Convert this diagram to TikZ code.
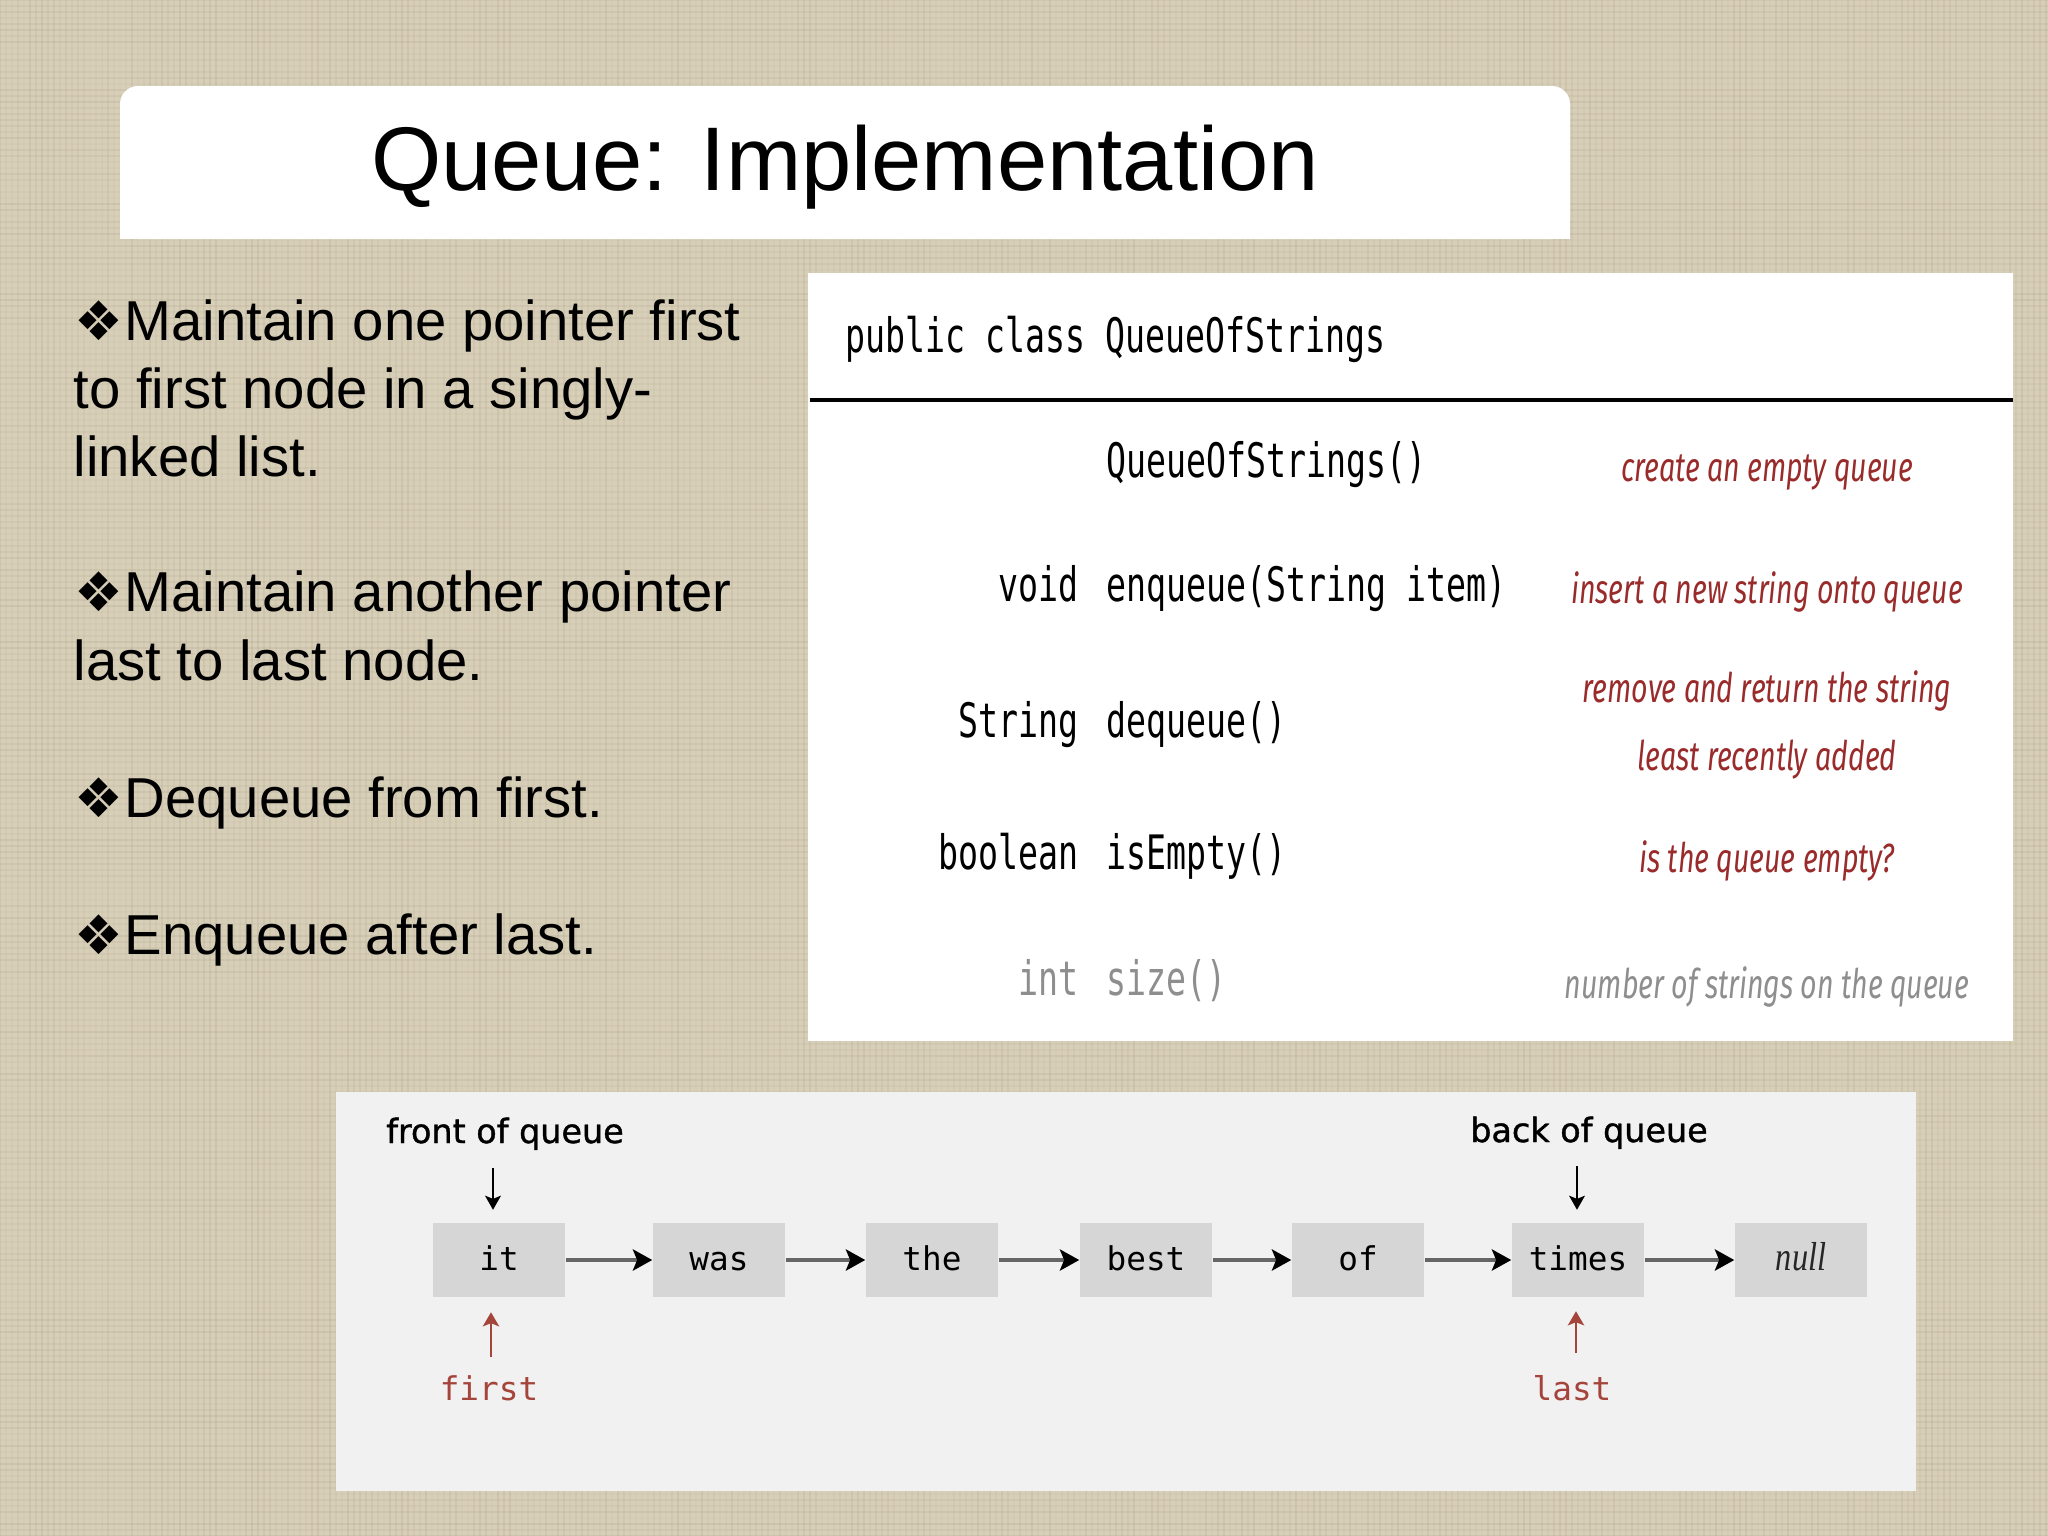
\documentclass[tikz,border=0pt]{standalone}
\usepackage{fontspec}
\setmainfont{Liberation Sans}
\newfontfamily\bulletfont{DejaVu Sans}
\newfontfamily\tmono[FakeStretch=0.7]{DejaVu Sans Mono}
\newfontfamily\dmono{DejaVu Sans Mono}
\newfontfamily\descfont[FakeStretch=0.7]{Fira Sans}
\newfontfamily\nilfont[FakeStretch=0.8]{Liberation Serif}
\newfontfamily\lblfont[FakeBold=1.2]{DejaVu Sans}
\usetikzlibrary{arrows.meta}
\definecolor{bgbeige}{HTML}{D8CFB9}
\definecolor{thread}{HTML}{A89D84}
\definecolor{descred}{HTML}{9A2B2B}
\definecolor{ptrred}{HTML}{A5443B}
\definecolor{rowgray}{HTML}{8E8E8E}
\definecolor{panelgray}{HTML}{F1F1F1}
\definecolor{boxgray}{HTML}{D6D6D6}
\definecolor{linkgray}{HTML}{666666}
\tikzset{
  bulletline/.style={anchor=base west, inner sep=0pt, font=\fontsize{16}{16}\selectfont},
  monotxt/.style={inner sep=0pt, font=\tmono\fontsize{13.5}{13.5}\selectfont},
  desctxt/.style={anchor=base, inner sep=0pt, text=descred, font=\descfont\itshape\fontsize{11.6}{11.6}\selectfont},
  qbox/.style={fill=boxgray, minimum width=1.32cm, minimum height=0.73cm, inner sep=0pt,
    text height=0.76em, text depth=0.15em, font=\dmono\fontsize{9.3}{9.3}\selectfont},
  link/.style={draw=linkgray, line width=0.042cm, -{Stealth[black,length=5.5pt,width=6pt,inset=1.2pt]}},
  downptr/.style={draw=black, line width=0.5pt, -{Stealth[length=4pt,width=4.5pt,inset=0.9pt]}},
  upptr/.style={draw=ptrred, line width=0.8pt, -{Stealth[length=4pt,width=4.6pt,inset=0.9pt]}},
  ptrlbl/.style={anchor=base, inner sep=0pt, text=ptrred, font=\dmono\fontsize{9.3}{9.3}\selectfont},
  qlbl/.style={anchor=base, inner sep=0pt, font=\lblfont\fontsize{9.5}{9.5}\selectfont},
}
\newcommand{\bul}{{\bulletfont\fontsize{15.5}{15.5}\selectfont ❖}\hspace{0.3pt}}
\begin{document}
\begin{tikzpicture}[x=0.01cm,y=-0.01cm]
\useasboundingbox (0,0) rectangle (2048,1536);
% background linen
\fill[bgbeige] (0,0) rectangle (2048,1536);
\pgfmathsetseed{7}
\foreach \i in {0,6,...,2048} {
  \pgfmathsetmacro\op{0.04+0.18*rnd}
  \draw[thread, line width=0.018cm, opacity=\op] (\i,0) -- (\i,1536);
}
\foreach \j in {0,6,...,1536} {
  \pgfmathsetmacro\op{0.04+0.18*rnd}
  \draw[thread, line width=0.018cm, opacity=\op] (0,\j) -- (2048,\j);
}
% title box
\fill[white, rounded corners=0.18cm] (120,86) rectangle (1570,239);
\fill[white] (120,160) rectangle (1570,239);
\node[anchor=base, inner sep=0pt, font=\fontsize{25.7}{25.7}\selectfont] (title) at (845,190) {Queue: Implementation};
% bullets
\node[bulletline] (b1a) at (74,340) {\bul Maintain one pointer first};
\node[bulletline] (b1b) at (73,408) {to first node in a singly-};
\node[bulletline] (b1c) at (73,476) {linked list.};
\node[bulletline] (b2a) at (74,611) {\bul Maintain another pointer};
\node[bulletline] (b2b) at (73,680) {last to last node.};
\node[bulletline] (b3a) at (74,817) {\bul Dequeue from first.};
\node[bulletline] (b4a) at (74,954) {\bul Enqueue after last.};
% API table
\fill[white] (808,273) rectangle (2013,1041);
\draw[black, line width=0.035cm] (810,400) -- (2013,400);
\node[monotxt, anchor=base west] (cls) at (845,352) {public class QueueOfStrings};
\node[monotxt, anchor=base west] (m1) at (1106,477) {QueueOfStrings()};
\node[monotxt, anchor=base east] (r2) at (1079,601) {void};
\node[monotxt, anchor=base west] (m2) at (1106,601) {enqueue(String item)};
\node[monotxt, anchor=base east] (r3) at (1079,737) {String};
\node[monotxt, anchor=base west] (m3) at (1106,737) {dequeue()};
\node[monotxt, anchor=base east] (r4) at (1079,869) {boolean};
\node[monotxt, anchor=base west] (m4) at (1106,869) {isEmpty()};
\node[monotxt, anchor=base east, text=rowgray] (r5) at (1079,995) {int};
\node[monotxt, anchor=base west, text=rowgray] (m5) at (1106,995) {size()};
\node[desctxt] (d1) at (1767,481) {create an empty queue};
\node[desctxt] (d2) at (1767,603) {insert a new string onto queue};
\node[desctxt] (d3a) at (1767,702) {remove and return the string};
\node[desctxt] (d3b) at (1767,770) {least recently added};
\node[desctxt] (d4) at (1767,872) {is the queue empty?};
\node[desctxt, text=rowgray] (d5) at (1767,998) {number of strings on the queue};
% linked list panel
\fill[panelgray] (336,1092) rectangle (1916,1491);
\node[qbox] (n1) at (499,1260) {it};
\node[qbox] (n2) at (719,1260) {was};
\node[qbox] (n3) at (932,1260) {the};
\node[qbox] (n4) at (1146,1260) {best};
\node[qbox] (n5) at (1358,1260) {of};
\node[qbox] (n6) at (1578,1260) {times};
\node[qbox, text=black!85, font=\nilfont\itshape\fontsize{11.5}{11.5}\selectfont] (n7) at (1801,1260) {null};
\draw[link] (n1.east) -- (n2.west);
\draw[link] (n2.east) -- (n3.west);
\draw[link] (n3.east) -- (n4.west);
\draw[link] (n4.east) -- (n5.west);
\draw[link] (n5.east) -- (n6.west);
\draw[link] (n6.east) -- (n7.west);
\node[qlbl] (front) at (505,1143) {front of queue};
\node[qlbl] (back) at (1589,1142) {back of queue};
\coordinate (fa) at (493,1168);
\coordinate (ba) at (1577,1166);
\draw[downptr] (fa) -- ([yshift=0.13cm]fa |- n1.north);
\draw[downptr] (ba) -- ([yshift=0.13cm]ba |- n6.north);
\node[ptrlbl] (first) at (489,1400) {first};
\node[ptrlbl] (last) at (1572,1400) {last};
\coordinate (fp) at (491,1357);
\coordinate (lp) at (1576,1353);
\draw[upptr] (fp) -- ([yshift=-0.15cm]fp |- n1.south);
\draw[upptr] (lp) -- ([yshift=-0.14cm]lp |- n6.south);
\end{tikzpicture}
\end{document}
